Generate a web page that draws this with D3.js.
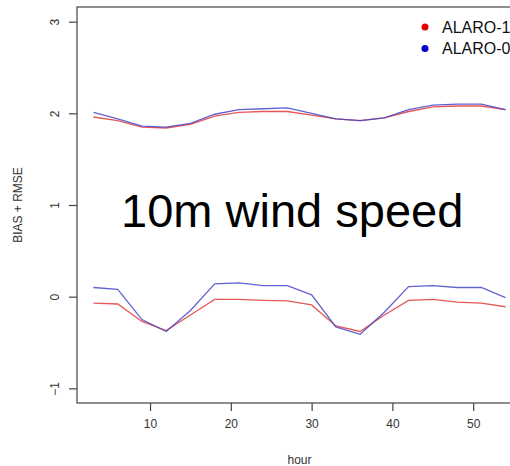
<!DOCTYPE html>
<html>
<head>
<meta charset="utf-8">
<script src="https://cdn.jsdelivr.net/npm/d3@7"></script>
<style>
  html, body { margin: 0; padding: 0; background: #fff; overflow: hidden; }
  svg { display: block; font-family: "Liberation Sans", Arial, sans-serif; }
</style>
</head>
<body>
<div id="chart"></div>
<script>
// forecast hours
var hours = [3, 6, 9, 12, 15, 18, 21, 24, 27, 30, 33, 36, 39, 42, 45, 48, 51, 54]

// RMSE (upper pair of curves)
var rmse1 = [1.96, 1.92, 1.85, 1.84, 1.88, 1.97, 2.01, 2.02, 2.02, 1.98, 1.94, 1.92, 1.95, 2.02, 2.07, 2.08, 2.08, 2.04]
var rmse0 = [2.01, 1.94, 1.86, 1.85, 1.89, 1.99, 2.04, 2.05, 2.06, 2.00, 1.94, 1.92, 1.95, 2.04, 2.09, 2.10, 2.10, 2.04]

// BIAS (lower pair of curves)
var bias1 = [-0.07, -0.08, -0.27, -0.37, -0.20, -0.03, -0.03, -0.04, -0.045, -0.09, -0.32, -0.38, -0.20, -0.04, -0.03, -0.06, -0.07, -0.11]
var bias0 = [0.10, 0.08, -0.25, -0.38, -0.15, 0.14, 0.15, 0.12, 0.12, 0.02, -0.33, -0.41, -0.17, 0.11, 0.12, 0.10, 0.10, -0.01]

var xTicks = [10, 20, 30, 40, 50]
var yTicks = [-1, 0, 1, 2, 3]
var legendLabels = ['ALARO-1', 'ALARO-0']

var width = 510
var height = 466
var plot = { left: 77, right: 522, top: 7, bottom: 403 }
var red = '#e23b3b'
var blue = '#4646c8'

var svg = d3.select('#chart').append('svg')
  .attr('width', width)
  .attr('height', height)

// R style: 4% padding around xlim / ylim
var x = d3.scaleLinear().domain([3 - 51 * 0.04, 54 + 51 * 0.04]).range([plot.left, plot.right])
var y = d3.scaleLinear().domain([-1 - 4 * 0.04, 3 + 4 * 0.04]).range([plot.bottom, plot.top])

var line = d3.line()
  .x(function (d) { return x(d[0]) })
  .y(function (d) { return y(d[1]) })

function series (vals) {
  return hours.map(function (h, i) { return [h, vals[i]] })
}

var curves = [
  { vals: rmse1, color: red },
  { vals: rmse0, color: blue },
  { vals: bias1, color: red },
  { vals: bias0, color: blue }
]

svg.selectAll('path.curve')
  .data(curves)
  .enter().append('path')
  .attr('class', 'curve')
  .attr('d', function (d) { return line(series(d.vals)) })
  .attr('fill', 'none')
  .attr('stroke', function (d) { return d.color })
  .attr('stroke-width', 1.3)
  .attr('stroke-opacity', 0.85)

// plot box
svg.append('rect')
  .attr('x', plot.left)
  .attr('y', plot.top)
  .attr('width', plot.right - plot.left)
  .attr('height', plot.bottom - plot.top)
  .attr('fill', 'none')
  .attr('stroke', '#444')
  .attr('stroke-width', 1.2)

// x axis
var xAxis = svg.append('g')
  .attr('transform', 'translate(0,' + plot.bottom + ')')
  .call(d3.axisBottom(x).tickValues(xTicks).tickSize(8).tickPadding(8))
xAxis.select('.domain').remove()
xAxis.selectAll('line').attr('stroke', '#444').attr('stroke-width', 1.2)
xAxis.selectAll('text').attr('fill', '#333').style('font-size', '12px')

// y axis, labels rotated like R
var yAxis = svg.append('g')
  .attr('transform', 'translate(' + plot.left + ',0)')
  .call(d3.axisLeft(y).tickValues(yTicks).tickSize(8).tickFormat(d3.format('d')))
yAxis.select('.domain').remove()
yAxis.selectAll('line').attr('stroke', '#444').attr('stroke-width', 1.2)
yAxis.selectAll('text')
  .attr('fill', '#333')
  .style('font-size', '12px')
  .attr('x', null)
  .attr('dy', null)
  .attr('text-anchor', 'middle')
  .attr('transform', 'translate(-22,0) rotate(-90)')
  .attr('dominant-baseline', 'central')

// axis titles
svg.append('text')
  .attr('x', (plot.left + plot.right) / 2)
  .attr('y', 464)
  .attr('text-anchor', 'middle')
  .attr('fill', '#333')
  .style('font-size', '12px')
  .text('hour')

svg.append('text')
  .attr('transform', 'translate(22,' + (plot.top + plot.bottom) / 2 + ') rotate(-90)')
  .attr('text-anchor', 'middle')
  .attr('fill', '#333')
  .style('font-size', '12px')
  .text('BIAS + RMSE')

// big annotation in the middle
svg.append('text')
  .attr('x', x(27.6))
  .attr('y', y(0.757))
  .attr('text-anchor', 'middle')
  .attr('fill', '#000')
  .style('font-size', '47px')
  .text('10m wind speed')

// legend (runs off the right edge, as in the cropped original)
var legend = svg.append('g').attr('transform', 'translate(425,27)')
var item = legend.selectAll('g')
  .data(legendLabels)
  .enter().append('g')
  .attr('transform', function (d, i) { return 'translate(0,' + i * 21.5 + ')' })
item.append('circle')
  .attr('r', 3.5)
  .attr('fill', function (d, i) { return i === 0 ? '#e00000' : '#0000d0' })
item.append('text')
  .attr('x', 17)
  .attr('dy', '0.35em')
  .attr('fill', '#111')
  .style('font-size', '16px')
  .text(function (d) { return d })
</script>
</body>
</html>
